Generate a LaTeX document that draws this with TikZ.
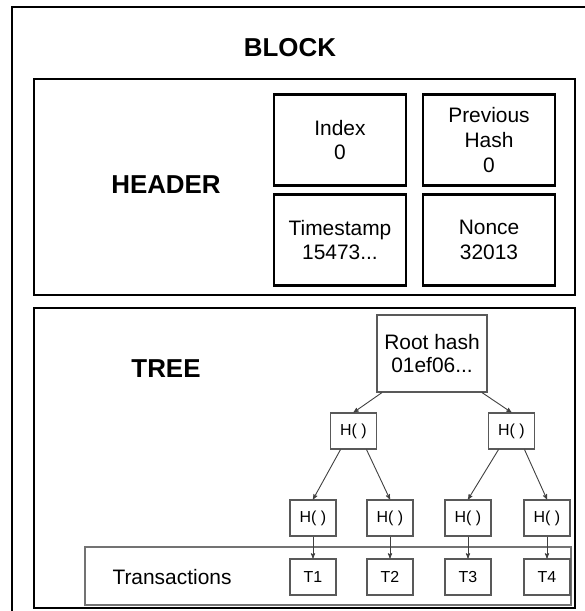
\documentclass[tikz,border=0pt]{standalone}
\usepackage{fontspec}
\setmainfont{Liberation Sans}
\usetikzlibrary{arrows}
\tikzset{
    boxframe/.style={
           draw=black,
           line width=2.6bp,
           },
    biglabel/.style={
           font=\fontsize{26}{30}\selectfont\bfseries,
           inner sep=0pt,
           },
    field/.style={
           rectangle,
           draw=black, line width=2.6bp,
           minimum width=132bp,
           minimum height=91bp,
           align=center,
           font=\fontsize{21}{25}\selectfont,
           },
    hashbox/.style={
           rectangle,
           draw=black!65, line width=1.1bp,
           minimum width=46bp,
           minimum height=36bp,
           inner sep=0pt,
           font=\fontsize{16}{19}\selectfont,
           },
    link/.style={
           ->,
           draw=black!75,
           line width=0.9bp,
           },
}

\begin{document}
\begin{tikzpicture}[x=1bp,y=-1bp,>=stealth']
\clip (0,0) rectangle (585,611);
% the block frame runs off the page at right and bottom
\draw[boxframe] (12,7) rectangle (640,660);
\node[biglabel] (block) at (290,48) {BLOCK};

% header part
\draw[boxframe] (34,79) rectangle (575,295);
\node[biglabel] (header) at (166,185) {HEADER};
\node[field] (index) at (340,140) {Index\\0};
\node[field] (prev) at (489,140) {Previous\\Hash\\0};
\node[field] (time) at (340,240) {Timestamp\\15473...};
\node[field] (nonce) at (489,240) {Nonce\\32013};

% tree part
\draw[boxframe] (34,308) rectangle (575,608);
\node[biglabel] (tree) at (166,369) {TREE};
\node[rectangle, draw=black!55, line width=1.3bp, minimum width=486bp, minimum height=58bp] (txs) at (328,576) {};
\node[font=\fontsize{21}{25}\selectfont] (txlabel) at (172,577) {Transactions};
\node[hashbox, minimum width=110bp, minimum height=77bp, align=center,
      font=\fontsize{21}{24}\selectfont] (root) at (432,353.5) {Root hash\\01ef06...};
\node[hashbox] (h1) at (353.5,431) {H(\ )};
\node[hashbox] (h2) at (511.5,431) {H(\ )};
\node[hashbox] (h11) at (313,518) {H(\ )};
\node[hashbox] (h12) at (390,518) {H(\ )};
\node[hashbox] (h21) at (468,518) {H(\ )};
\node[hashbox] (h22) at (547,518) {H(\ )};
\node[hashbox] (t1) at (313,577) {T1};
\node[hashbox] (t2) at (390,577) {T2};
\node[hashbox] (t3) at (468,577) {T3};
\node[hashbox] (t4) at (547,577) {T4};

\path (root.-142) edge[link] (h1.north);
\path (root.-38) edge[link] (h2.north);
\path (h1.-125) edge[link] (h11.north);
\path (h1.-55) edge[link] (h12.north);
\path (h2.-125) edge[link] (h21.north);
\path (h2.-55) edge[link] (h22.north);
\path (h11) edge[link] (t1);
\path (h12) edge[link] (t2);
\path (h21) edge[link] (t3);
\path (h22) edge[link] (t4);
\end{tikzpicture}
\end{document}
